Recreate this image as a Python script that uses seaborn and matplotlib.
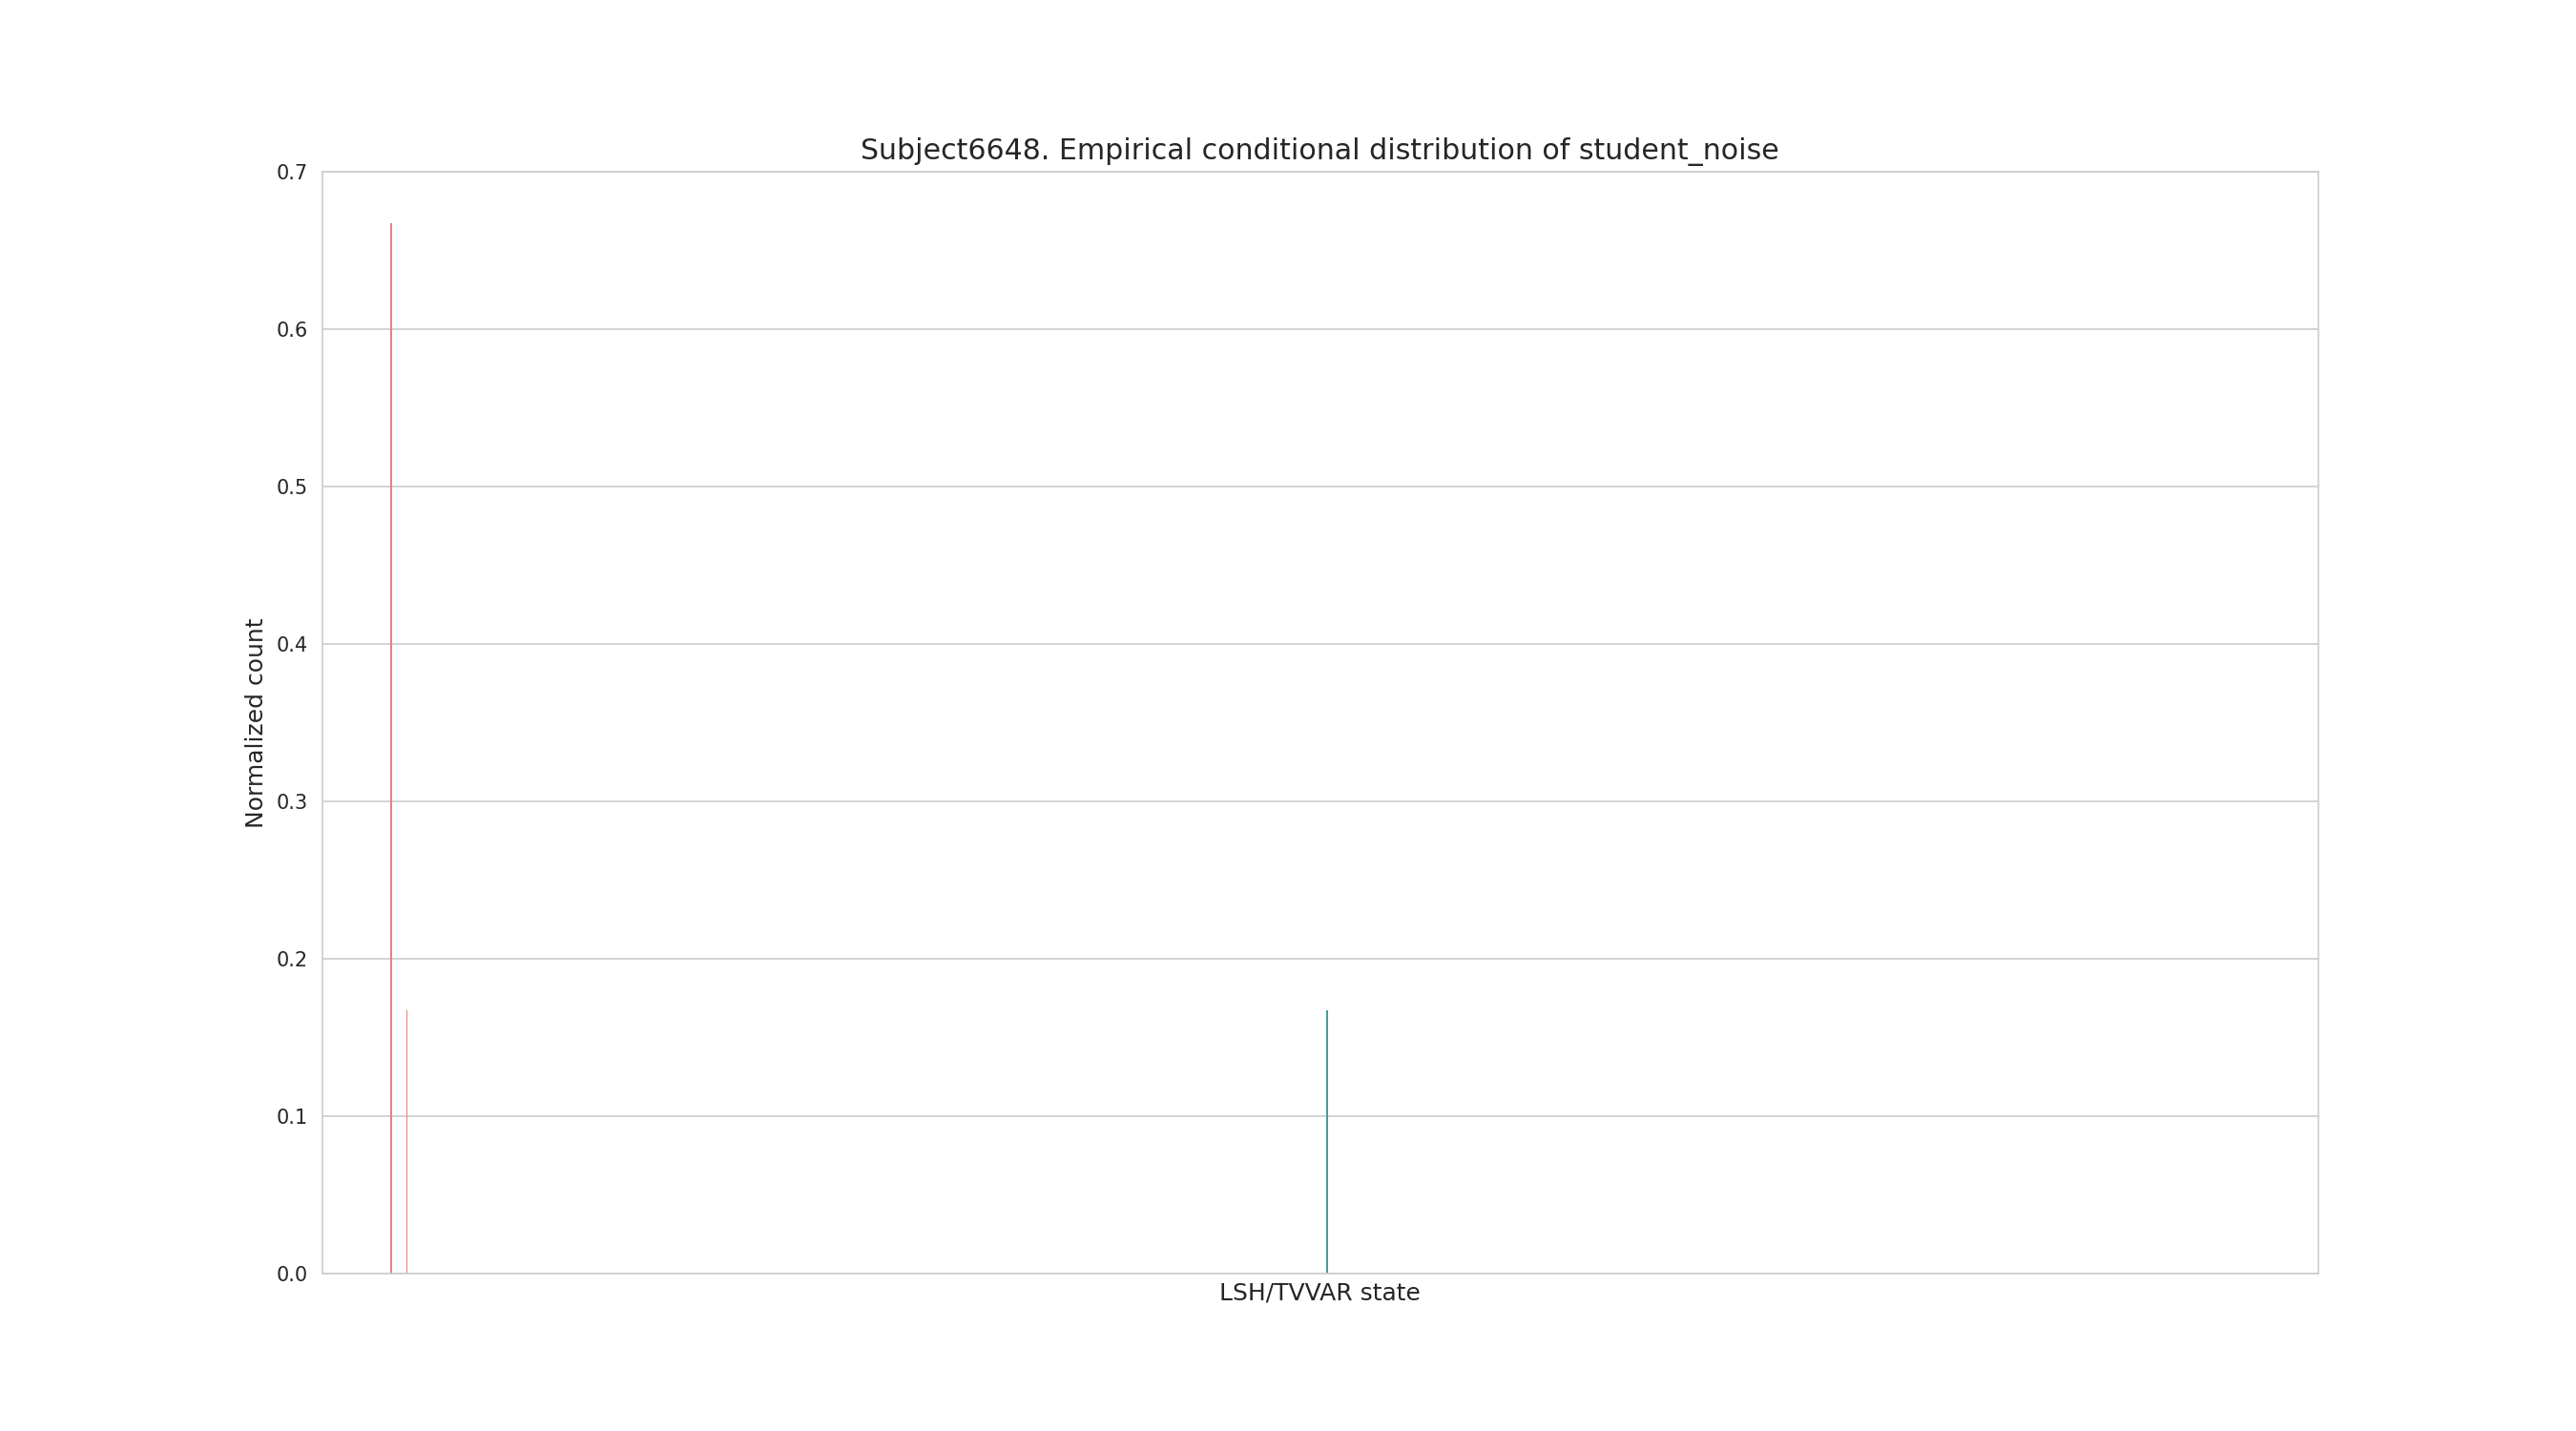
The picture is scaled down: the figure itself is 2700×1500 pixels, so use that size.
import numpy as np
import pandas as pd
import matplotlib
matplotlib.use("Agg")
import matplotlib.pyplot as plt
import seaborn as sns

# number of LSH/TVVAR states on the x axis (most of them never visited)
N_STATES = 1024

# states that were visited and their normalized counts
visited_states = [35, 43, 515]
normalized_count = [0.667, 0.167, 0.167]

SUBJECT = "Subject6648"
VARIABLE = "student_noise"


def build_frame():
    counts = np.zeros(N_STATES)
    counts[visited_states] = normalized_count
    return pd.DataFrame({"state": [str(s) for s in range(N_STATES)], "count": counts})


def main():
    sns.set_style("whitegrid")
    plt.rcParams["font.family"] = ["DejaVu Sans"]
    df = build_frame()

    fig = plt.figure(figsize=(18, 10), dpi=150)
    ax = fig.add_subplot(111)
    sns.barplot(data=df, x="state", y="count", hue="state",
                palette=sns.color_palette("husl", N_STATES), legend=False,
                linewidth=0, edgecolor="none", ax=ax)
    ax.set_xticks([])
    ax.set_xlim(-0.5, N_STATES - 0.5)
    ax.set_ylim(0, 0.7)
    ax.tick_params(axis="y", labelsize=10)
    ax.set_xlabel("LSH/TVVAR state", fontsize=12)
    ax.set_ylabel("Normalized count", fontsize=12)
    ax.set_title(f"{SUBJECT}. Empirical conditional distribution of {VARIABLE}", fontsize=14.4)

    fig.savefig("out.png", dpi=150)


if __name__ == "__main__":
    main()
